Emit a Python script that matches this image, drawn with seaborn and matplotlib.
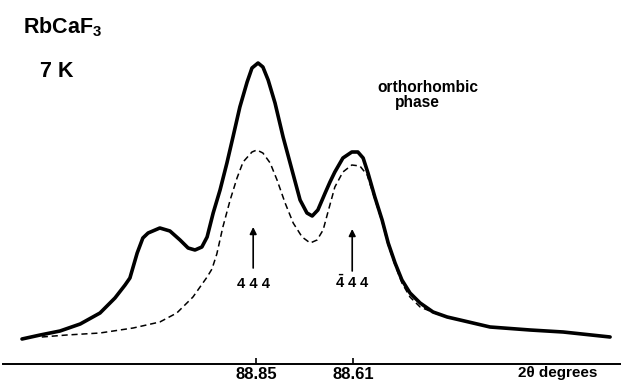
import matplotlib
matplotlib.use("Agg")
import matplotlib.pyplot as plt
import seaborn as sns
import pandas as pd

# ---- data (2theta in degrees, intensity in arbitrary units) ----
obs_2theta = [89.429, 89.384, 89.335, 89.285, 89.236, 89.199, 89.174, 89.162, 89.144,
              89.130, 89.117, 89.088, 89.063, 89.038, 89.018, 89.001, 88.984, 88.971,
              88.956, 88.939, 88.922, 88.907, 88.890, 88.872, 88.860, 88.845, 88.833,
              88.820, 88.803, 88.783, 88.761, 88.741, 88.724, 88.711, 88.697, 88.679,
              88.667, 88.655, 88.635, 88.613, 88.598, 88.585, 88.573, 88.556, 88.538,
              88.523, 88.506, 88.489, 88.469, 88.444, 88.412, 88.377, 88.345, 88.271,
              88.172, 88.090, 87.974]
obs_intensity = [25, 29, 33, 40, 51, 66, 79, 86, 111,
                 126, 131, 136, 133, 124, 116, 114, 117, 127,
                 151, 174, 201, 227, 257, 282, 296, 301, 297,
                 284, 261, 227, 194, 164, 151, 148, 154, 171,
                 182, 192, 206, 212, 212, 206, 191, 167, 144,
                 121, 101, 84, 71, 61, 52, 47, 44, 37,
                 34, 32, 27]

ortho_2theta = [89.380, 89.318, 89.236, 89.154, 89.088, 89.046, 89.006, 88.971, 88.959,
                88.947, 88.932, 88.914, 88.897, 88.882, 88.860, 88.848, 88.833, 88.815,
                88.798, 88.778, 88.758, 88.736, 88.716, 88.699, 88.684, 88.672, 88.655,
                88.635, 88.613, 88.593, 88.575, 88.556, 88.538, 88.523, 88.506, 88.489,
                88.469, 88.444, 88.402, 88.370]
ortho_intensity = [27, 29, 31, 36, 42, 51, 67, 87, 95,
                   110, 137, 164, 186, 202, 212, 214, 211, 201,
                   184, 161, 141, 127, 121, 124, 134, 152, 177,
                   192, 199, 198, 189, 165, 142, 119, 99, 81,
                   67, 57, 50, 46]

tick_values = [88.85, 88.61]
tick_labels = ["88.85", "88.61"]
peak_labels = ["4 4 4", r"$\bar{4}$ 4 4"]
peak_arrow_x = [88.857, 88.612]
arrow_tail = [96, 93]
arrow_head = [137, 135]

obs_df = pd.DataFrame({"two_theta": obs_2theta, "intensity": obs_intensity})
ortho_df = pd.DataFrame({"two_theta": ortho_2theta, "intensity": ortho_intensity})

sns.set_theme(style="white")
plt.rcParams["font.family"] = ["Liberation Sans", "DejaVu Sans"]
plt.rcParams["font.weight"] = "bold"
plt.rcParams["text.color"] = "black"
plt.rcParams["xtick.color"] = "black"
plt.rcParams["mathtext.fontset"] = "custom"
plt.rcParams["mathtext.rm"] = "Liberation Sans:bold"
plt.rcParams["mathtext.bf"] = "Liberation Sans:bold"
plt.rcParams["mathtext.it"] = "Liberation Sans:bold"
plt.rcParams["mathtext.default"] = "rm"

W, H = 621, 381
fig = plt.figure(figsize=(W / 100, H / 100), dpi=100)
ax = fig.add_axes([3 / W, 17 / H, 618 / W, 364 / H])
ax.set_facecolor("none")

sns.lineplot(data=ortho_df, x="two_theta", y="intensity", ax=ax, color="black",
             lw=1.1, linestyle=(0, (4, 2.5)), sort=False)
sns.lineplot(data=obs_df, x="two_theta", y="intensity", ax=ax, color="black",
             lw=2.6, sort=False, solid_capstyle="round", solid_joinstyle="round")

ax.set_xlim(89.476, 87.947)
ax.set_ylim(0, 364)
for s in ["top", "left", "right"]:
    ax.spines[s].set_visible(False)
ax.spines["bottom"].set_linewidth(1.4)
ax.spines["bottom"].set_color("black")
ax.set_yticks([])
ax.set_xticks(tick_values)
ax.set_xticklabels(tick_labels, fontsize=12, fontweight="bold", color="black")
ax.tick_params(axis="x", direction="in", length=4, width=1.2, pad=2, colors="black",
               bottom=True)
ax.set_xlabel("")
ax.set_ylabel("")

for x, lab, t, h in zip(peak_arrow_x, peak_labels, arrow_tail, arrow_head):
    ax.annotate("", xy=(x, h), xytext=(x, t),
                arrowprops=dict(arrowstyle="-|>", lw=1.2, color="black",
                                mutation_scale=10, shrinkA=0, shrinkB=0))
    ax.text(x, 76, lab, ha="center", va="baseline", fontsize=10.5, fontweight="bold",
            color="black")

txt = dict(fontweight="bold", va="baseline", color="black")
fig.text(23 / W, 1 - 33 / H, r"RbCaF$_3$", fontsize=15.5, **txt)
fig.text(40 / W, 1 - 77 / H, "7 K", fontsize=15.5, **txt)
fig.text(377 / W, 1 - 92 / H, "orthorhombic", fontsize=11.2, **txt)
fig.text(395 / W, 1 - 107 / H, "phase", fontsize=11.2, **txt)
fig.text(518 / W, 1 - 377 / H, "2θ degrees", fontsize=11, **txt)

fig.savefig("out.png", dpi=100, facecolor="white")
